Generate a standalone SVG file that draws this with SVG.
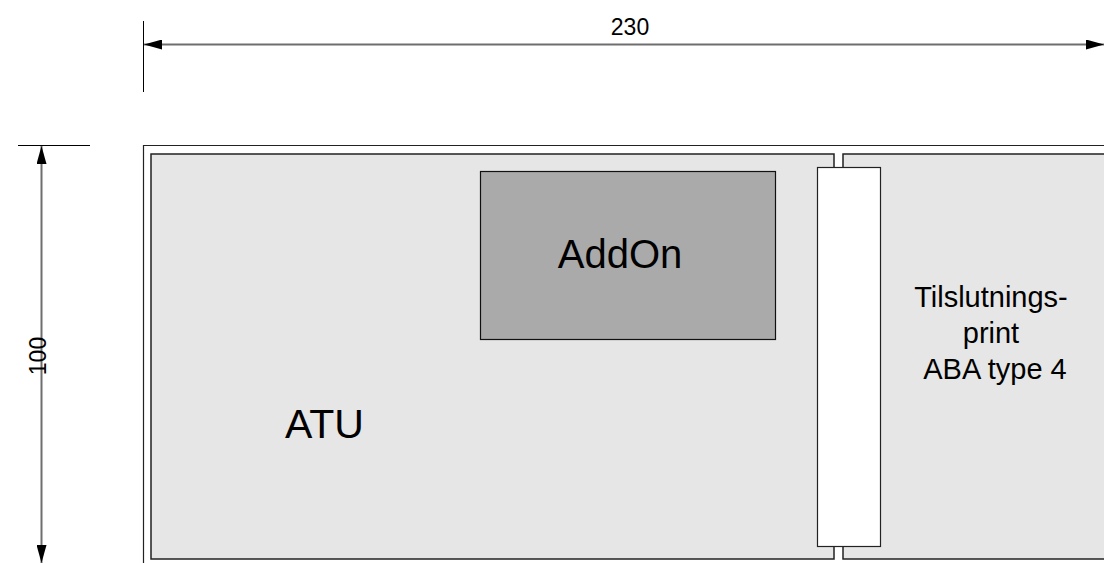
<svg xmlns="http://www.w3.org/2000/svg" width="1104" height="563" viewBox="0 0 1104 563">
  <style>
    .ext { stroke: #000; stroke-width: 1; fill: none; }
    .dim { stroke: #6e6e6e; stroke-width: 2; fill: none; }
    .panel { fill: #e6e6e6; stroke: #222; stroke-width: 1.5; }
    .frame { fill: none; stroke: #222; stroke-width: 1.2; }
    .lbl { font-family: "Liberation Sans", Arial, sans-serif; fill: #000; text-anchor: middle; }
  </style>
  <defs>
    <marker id="arrow" viewBox="0 0 18 10" refX="18" refY="5" markerWidth="18" markerHeight="10" markerUnits="userSpaceOnUse" orient="auto-start-reverse">
      <path d="M0,0 L18,5 L0,10 Z" fill="#000"/>
    </marker>
  </defs>
  <rect width="1104" height="563" fill="#fff"/>

  <!-- dimension: width 230 -->
  <g id="dim-width">
    <line class="ext" x1="143.5" y1="21" x2="143.5" y2="92"/>
    <line class="dim" x1="144" y1="44.5" x2="1104" y2="44.5" marker-start="url(#arrow)" marker-end="url(#arrow)"/>
    <text class="lbl" x="630" y="35" font-size="23">230</text>
  </g>

  <!-- dimension: height 100 -->
  <g id="dim-height">
    <line class="ext" x1="18" y1="145.5" x2="90" y2="145.5"/>
    <line class="dim" x1="41.5" y1="146" x2="41.5" y2="563" marker-start="url(#arrow)" marker-end="url(#arrow)"/>
    <text class="lbl" x="0" y="0" font-size="23" transform="translate(46,356) rotate(-90)">100</text>
  </g>

  <!-- outer frame -->
  <g id="frame">
    <path class="frame" d="M1104,145.5 H143.5 V563"/>
  </g>

  <!-- ATU board -->
  <g id="atu">
    <rect class="panel" x="151" y="154" width="683" height="405"/>
    <text class="lbl" x="324.5" y="438" font-size="41">ATU</text>
  </g>

  <!-- connection board -->
  <g id="tilslutningsprint">
    <rect class="panel" x="843" y="154" width="270" height="405"/>
    <text class="lbl" font-size="29">
      <tspan x="995" y="307">Tilslutnings-</tspan>
      <tspan x="995" y="343">print</tspan>
      <tspan x="995" y="379">ABA type 4</tspan>
    </text>
  </g>

  <!-- AddOn module -->
  <g id="addon">
    <rect x="480.5" y="171.5" width="295" height="168" fill="#aaaaaa" stroke="#111" stroke-width="1.2"/>
    <text class="lbl" x="620" y="268" font-size="40">AddOn</text>
  </g>

  <!-- connector strip -->
  <g id="connector">
    <rect x="817.5" y="167.5" width="63" height="379" fill="#fff" stroke="#222" stroke-width="1.2"/>
  </g>
</svg>
